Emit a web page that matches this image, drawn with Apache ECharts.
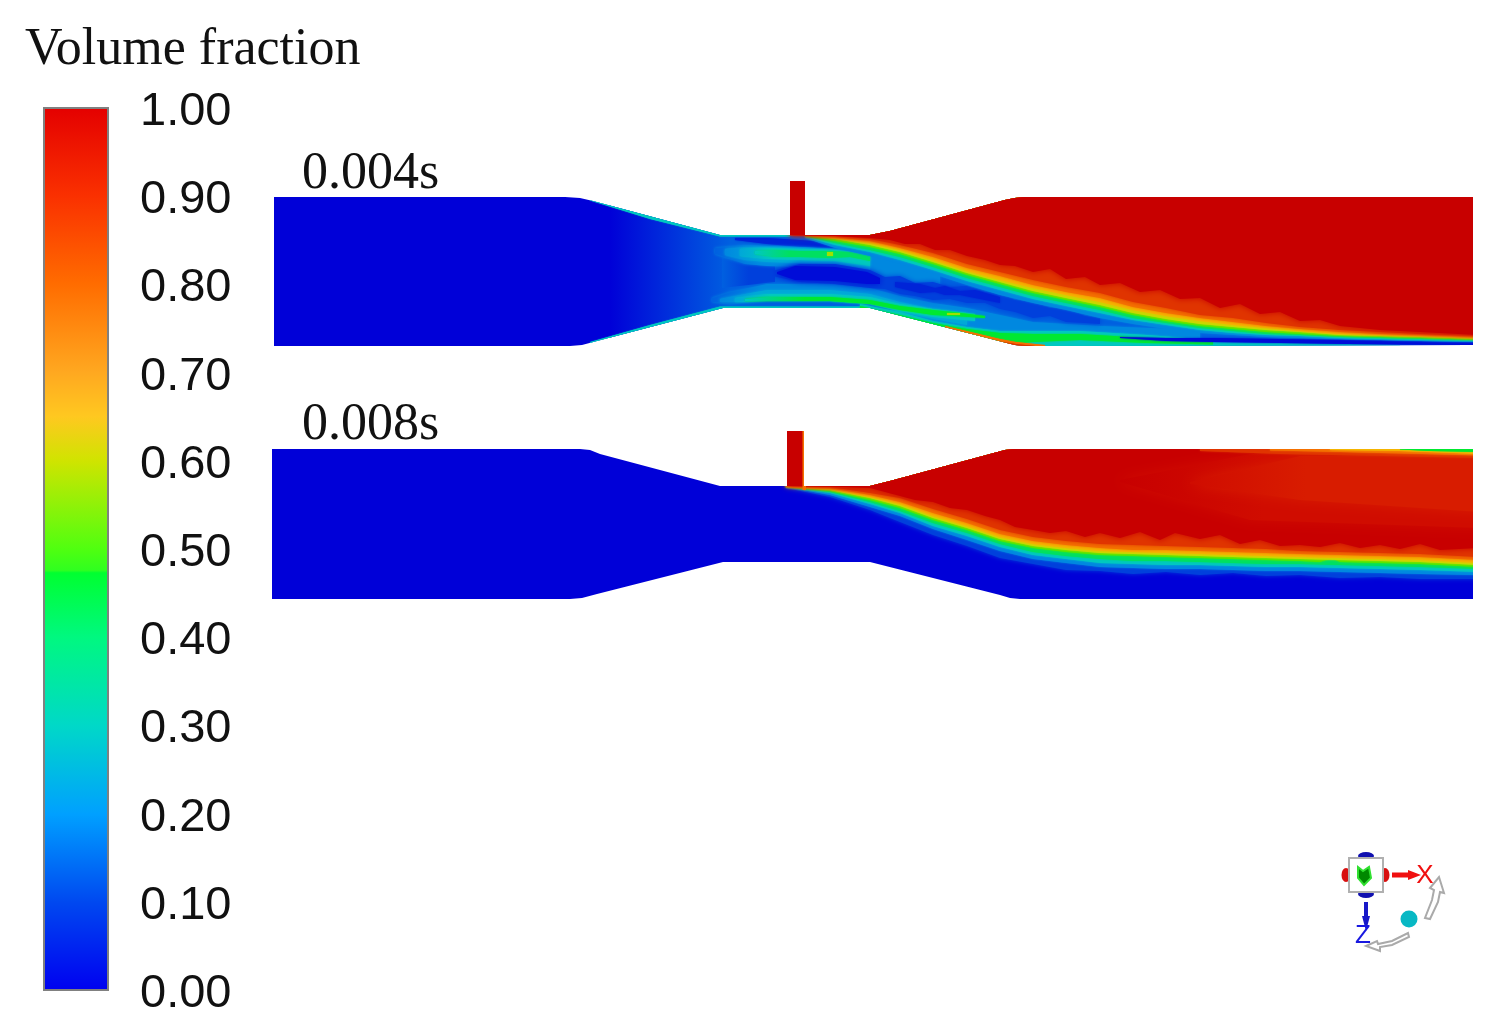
<!DOCTYPE html>
<html>
<head>
<meta charset="utf-8">
<title>Volume fraction</title>
<script src="https://cdn.jsdelivr.net/npm/echarts@6/dist/echarts.min.js"></script>
<style>
  html, body { margin: 0; background: #fff; }
  #chart { width: 1505px; height: 1033px; filter: blur(0.7px); }
</style>
</head>
<body>
<div id="chart"></div>
<script>
// Colour bar
const barTicks = [0, 0.1, 0.2, 0.3, 0.4, 0.5, 0.6, 0.7, 0.8, 0.9, 1];
const barStops = [0, 0.1, 0.2, 0.3, 0.4, 0.473, 0.476, 0.5, 0.6, 0.65, 0.7, 0.8, 0.9, 1];
const barColors = ['#0000f0', '#0048f0', '#00a0ff', '#00d8c8', '#00f880', '#00ff30', '#30ff20', '#50ff10', '#d0e400', '#ffc820', '#ffa820', '#ff6c00', '#fa3000', '#e40000'];

// Colours seen in the contours, darker than the bar
const fieldLevels = [0, 0.03, 0.06, 0.1, 0.15, 0.2, 0.25, 0.3, 0.4, 0.45, 0.5, 0.55, 0.6, 0.7, 0.8, 0.9, 0.93, 0.96, 1];
const fieldColors = ['#0000d8', '#000cd8', '#0024d8', '#0040dc', '#0060e0', '#0088e0', '#00a8d8', '#00c8c0', '#00e060', '#00e830', '#50e800', '#a0e000', '#c8d800', '#f4b400', '#f47000', '#e03400', '#d81c00', '#d00c00', '#c80000'];

// Channel outlines [x, y], tower included
const outline1 = [[274,197],[565,197],[580,198],[593,201],[720,235],[790,235],[790,181],[805,181],[805,235],[870,235],[890,231],[1005,200],[1015,198],[1025,197],[1473,197],[1473,345],[1025,346],[1015,345],[1003,342],[870,308],[723,308],[597,341],[582,345],[570,346],[274,346]];
const outline2 = [[272,449],[580,449],[590,450],[600,454],[720,486],[787,486],[787,431],[804,431],[804,486],[870,486],[890,481],[1005,450],[1015,449],[1473,449],[1473,599],[1020,599],[1010,598],[1000,595],[870,562],[723,562],[597,594],[582,598],[570,599],[272,599]];

// Frame 1 bands as rows [x, upper y, lower y], painted in order
const f1Base = [[270,150,360],[1480,150,360]];
const f1Wake = [[610,190,360],[1480,190,360]];
const f1WakeCore = [[722,258,288],[775,264,282]];
const f1WallUp = [[590,190,200.5],[650,190,219],[720,190,236.5],[790,190,236.5]];
const f1WallDown = [[590,342,360],[650,325,360],[720,306.5,360],[870,306.5,360]];
const f1NeckDark = [[735,238,240],[767,238,244],[800,240,247],[835,243,248],[865,246,250]];
const f1UpperLight20 = [[715,248,254],[745,245,264],[767,246,266],[800,247,267],[835,249,268],[870,251,276],[900,258,280],[940,270,292]];
const f1UpperLight25 = [[725,249,255],[745,247,260],[767,247,262],[800,248,263],[835,250,264],[870,253,270]];
const f1UpperLight30 = [[740,249,256],[767,248,259],[800,249,260],[835,250,261],[870,254,266]];
const f1UpperGreen = [[755,251,254],[775,250,257],[800,251,257],[830,251,258],[850,252,257],[870,256,261]];
const f1GreenSpot = [[827,252,256],[833,252,256]];
const f1LowerLight20 = [[712,298,302],[730,292,304],[767,284,300],[830,284,300],[870,288,303],[900,296,312],[933,303,322],[967,308,332],[1000,315,336],[1033,322,340],[1100,326,342],[1200,330,344]];
const f1LowerLight25 = [[720,299,302],[745,294,302],[767,290,300],[830,290,300],[870,294,303],[900,302,312],[933,309,319],[967,313,325]];
const f1LowerLight30 = [[735,298,302],[767,294,301],[830,294,301],[870,297,304],[900,304,311],[933,309,317],[975,314,321]];
const f1LowerGreen = [[745,299,301],[767,297,301],[830,297,301],[870,300,304],[900,306,310],[933,310,315],[953,312,316],[985,316,318]];
const f1GreenBright = [[947,313,315],[960,313,315]];
const f1WallBand = [[860,304,320],[900,312,330],[933,321,340],[967,327,350],[1000,331,350],[1033,331,350],[1080,331,350],[1147,335,350],[1213,340,350],[1300,343,350],[1400,345,350]];
const f1WallGreen = [[860,306,320],[900,315,330],[933,323,340],[967,329,350],[1000,333,345],[1033,334,342],[1080,334,340],[1147,338,343],[1213,342,344.5]];
const f1WallOrange = [[945,326,340],[975,333,345],[1000,339,350],[1016,342,350],[1045,345,350]];
const f1WallRed = [[990,340,350],[1016,344,350],[1035,346,350]];
const f1Core10 = [[768,272,275],[800,264,282],[835,264,284],[870,270,288],[885,277,289],[900,276,294],[915,283,296],[933,282,300],[950,287,299],[967,286,303],[985,292,303],[1000,293,309],[1015,300,312],[1033,302,318],[1050,308,316],[1066,308,322],[1085,316,323],[1100,318,324]];
const f1Core03 = [[777,272,274],[795,266,280],[835,267,281],[867,272,284],[880,278,284]];
const f1Core06 = [[895,282,287],[920,284,293],[935,288,292],[945,286,295],[960,291,295],[975,290,298],[1000,297,303]];
const f1WallCore = [[1120,337,338],[1166,338,341],[1213,338,342],[1280,339,343],[1347,340,344],[1473,342,345]];
const f1Level20 = [[805,150,238],[835,150,248],[870,150,256],[900,150,264],[933,150,274],[967,150,285],[1000,150,295],[1033,150,303],[1066,150,310],[1100,150,318],[1133,150,324],[1166,150,329],[1200,150,333],[1233,150,335],[1266,150,337],[1300,150,338],[1340,150,339],[1380,150,340],[1420,150,341],[1480,150,342]];
const f1Level30 = [[805,150,237],[835,150,245],[870,150,252],[900,150,260],[933,150,270],[967,150,281],[1000,150,290],[1033,150,299],[1066,150,306],[1100,150,313],[1133,150,320],[1166,150,325],[1200,150,330],[1233,150,333],[1266,150,335],[1300,150,336],[1340,150,338],[1380,150,339],[1420,150,340],[1480,150,341]];
const f1Level40 = [[805,150,236],[835,150,243],[870,150,250],[900,150,257],[933,150,267],[967,150,278],[1000,150,287],[1033,150,296],[1066,150,303],[1100,150,310],[1133,150,318],[1166,150,323],[1200,150,328],[1233,150,331],[1266,150,334],[1300,150,335],[1340,150,337],[1380,150,338],[1420,150,339],[1480,150,340]];
const f1Level50 = [[805,150,236],[835,150,241],[870,150,247],[900,150,254],[933,150,264],[967,150,275],[1000,150,284],[1033,150,293],[1066,150,300],[1100,150,307],[1133,150,315],[1166,150,321],[1200,150,326],[1233,150,329],[1266,150,332],[1300,150,334],[1340,150,336],[1380,150,337],[1420,150,338],[1480,150,340]];
const f1Level60 = [[805,150,235],[835,150,239],[870,150,245],[900,150,252],[933,150,262],[967,150,273],[1000,150,282],[1033,150,291],[1066,150,298],[1100,150,305],[1133,150,313],[1166,150,319],[1200,150,324],[1233,150,327],[1266,150,330],[1300,150,332],[1340,150,335],[1380,150,336],[1420,150,337],[1480,150,339]];
const f1Level70 = [[805,150,235],[835,150,238],[870,150,243],[900,150,250],[933,150,260],[967,150,271],[1000,150,280],[1033,150,288],[1066,150,295],[1100,150,302],[1133,150,310],[1166,150,316],[1200,150,321],[1233,150,325],[1266,150,328],[1300,150,331],[1340,150,334],[1380,150,335],[1420,150,336],[1480,150,338]];
const f1Level80 = [[805,150,235],[835,150,237],[870,150,241],[900,150,248],[933,150,257],[967,150,268],[1000,150,276],[1033,150,285],[1066,150,292],[1100,150,298],[1133,150,307],[1166,150,313],[1200,150,318],[1233,150,322],[1266,150,326],[1300,150,329],[1340,150,332],[1380,150,334],[1420,150,335],[1480,150,337]];
const f1Level90 = [[790,150,235.5],[835,150,236],[870,150,239],[900,150,245],[933,150,253],[967,150,264],[1000,150,272],[1033,150,280],[1066,150,287],[1100,150,293],[1133,150,302],[1166,150,308],[1200,150,315],[1233,150,318],[1266,150,323],[1300,150,327],[1340,150,330],[1380,150,332],[1420,150,334],[1480,150,336]];
const f1Level100 = [[790,150,235],[835,150,236],[870,150,238],[890,150,240],[905,150,244],[920,150,244],[935,150,250],[950,150,250],[967,150,256],[985,150,260],[1000,150,265],[1015,150,266],[1033,150,272],[1050,150,269],[1066,150,279],[1085,150,277],[1100,150,285],[1120,150,283],[1140,150,292],[1160,150,290],[1180,150,299],[1200,150,298],[1220,150,308],[1240,150,304],[1260,150,314],[1280,150,312],[1300,150,321],[1320,150,320],[1340,150,326],[1380,150,330],[1420,150,332],[1480,150,335]];

// band: [level, rows, blur, fade from level, fade end]
const frame1Bands = [
  [0, f1Base, 0], [0.15, f1Wake, 0, 0, 0.138], [0.1, f1WakeCore, 0, 0.15, 0.5],
  [0.3, f1WallUp, 1], [0.3, f1WallDown, 1], [0.06, f1NeckDark, 2],
  [0.2, f1UpperLight20, 3, 0.15, 0.2], [0.25, f1UpperLight25, 3, 0.2, 0.25], [0.3, f1UpperLight30, 2, 0.25, 0.25],
  [0.4, f1UpperGreen, 2, 0.3, 0.3], [0.55, f1GreenSpot, 1],
  [0.2, f1LowerLight20, 3, 0.15, 0.1], [0.25, f1LowerLight25, 3, 0.2, 0.15], [0.3, f1LowerLight30, 2, 0.25, 0.15],
  [0.45, f1LowerGreen, 2, 0.3, 0.25], [0.55, f1GreenBright, 1],
  [0.3, f1WallBand, 2], [0.45, f1WallGreen, 2], [0.8, f1WallOrange, 1], [0.9, f1WallRed, 1],
  [0.1, f1Core10, 5], [0.03, f1Core03, 6], [0.06, f1Core06, 3], [0.03, f1WallCore, 2],
  [0.2, f1Level20, 2], [0.3, f1Level30, 2], [0.4, f1Level40, 2], [0.5, f1Level50, 2], [0.6, f1Level60, 2],
  [0.7, f1Level70, 2], [0.8, f1Level80, 3], [0.9, f1Level90, 4], [1, f1Level100, 6]
];

// Frame 2 bands
const f2Base = [[265,400,610],[1480,400,610]];
const f2Level10 = [[786,400,488],[830,400,497],[870,400,510],[900,400,522],[933,400,535],[967,400,546],[1000,400,558],[1033,400,564],[1066,400,570],[1100,400,571],[1133,400,574],[1166,400,572],[1200,400,575],[1233,400,573],[1266,400,576],[1300,400,575],[1340,400,578],[1380,400,577],[1420,400,579],[1480,400,579]];
const f2Level20 = [[786,400,487],[830,400,495],[870,400,507],[900,400,516],[933,400,529],[967,400,540],[1000,400,551],[1033,400,559],[1066,400,563],[1100,400,567],[1133,400,568],[1166,400,569],[1200,400,569],[1233,400,570],[1266,400,571],[1300,400,571],[1340,400,572],[1380,400,573],[1420,400,574],[1480,400,575]];
const f2Level30 = [[786,400,487],[830,400,493],[870,400,504],[900,400,513],[933,400,526],[967,400,536],[1000,400,547],[1033,400,555],[1066,400,559],[1100,400,563],[1133,400,564],[1166,400,565],[1200,400,565],[1233,400,566],[1266,400,567],[1300,400,567],[1340,400,568],[1380,400,569],[1420,400,570],[1480,400,572]];
const f2Level40 = [[786,400,487],[830,400,492],[870,400,502],[900,400,511],[933,400,523],[967,400,533],[1000,400,544],[1033,400,552],[1066,400,556],[1100,400,559],[1133,400,561],[1166,400,561],[1200,400,562],[1233,400,563],[1266,400,564],[1300,400,564],[1340,400,565],[1380,400,566],[1420,400,567],[1480,400,569]];
const f2Level50 = [[786,400,487],[830,400,491],[870,400,500],[900,400,508],[933,400,520],[967,400,530],[1000,400,541],[1033,400,548],[1066,400,552],[1100,400,555],[1133,400,556],[1166,400,557],[1200,400,558],[1233,400,559],[1266,400,560],[1300,400,561],[1320,400,562],[1332,400,558],[1340,400,562],[1380,400,563],[1420,400,564],[1480,400,567]];
const f2Level60 = [[786,400,487],[830,400,490],[870,400,498],[900,400,506],[933,400,518],[967,400,528],[1000,400,539],[1033,400,546],[1066,400,550],[1100,400,553],[1133,400,554],[1166,400,555],[1200,400,556],[1233,400,557],[1266,400,558],[1300,400,559],[1340,400,560],[1380,400,561],[1420,400,562],[1480,400,565]];
const f2Level70 = [[786,400,487],[830,400,489],[870,400,497],[900,400,504],[933,400,516],[967,400,526],[1000,400,537],[1033,400,544],[1066,400,548],[1100,400,551],[1133,400,552],[1166,400,553],[1200,400,554],[1233,400,555],[1266,400,556],[1300,400,557],[1340,400,558],[1380,400,559],[1420,400,560],[1480,400,563]];
const f2Level80 = [[786,400,486],[830,400,488],[870,400,495],[900,400,502],[933,400,513],[967,400,523],[1000,400,534],[1033,400,541],[1066,400,545],[1100,400,548],[1133,400,550],[1166,400,550],[1200,400,551],[1233,400,552],[1266,400,553],[1300,400,554],[1340,400,555],[1380,400,556],[1420,400,557],[1480,400,560]];
const f2Level90 = [[786,400,486],[830,400,487],[870,400,493],[900,400,498],[933,400,509],[967,400,519],[1000,400,530],[1033,400,537],[1066,400,541],[1100,400,544],[1133,400,545],[1166,400,546],[1200,400,547],[1233,400,548],[1266,400,549],[1300,400,551],[1340,400,552],[1380,400,553],[1420,400,554],[1480,400,557]];
const f2Level100 = [[786,400,486],[830,400,486.5],[870,400,488],[900,400,496],[915,400,500],[933,400,502],[950,400,508],[967,400,510],[985,400,516],[1000,400,520],[1015,400,527],[1033,400,530],[1050,400,533],[1066,400,531],[1085,400,537],[1100,400,533],[1120,400,538],[1140,400,532],[1160,400,540],[1175,400,533],[1200,400,539],[1220,400,535],[1240,400,544],[1260,400,540],[1280,400,546],[1300,400,545],[1320,400,547],[1340,400,543],[1360,400,548],[1380,400,545],[1400,400,549],[1420,400,544],[1440,400,550],[1480,400,548]];
const f2Upper96 = [[1120,480,482],[1250,454,520],[1480,454,528]];
const f2Upper93 = [[1190,482,484],[1300,456,500],[1480,456,512]];
const f2TopOrange90 = [[1200,440,451],[1280,440,454],[1480,440,458]];
const f2TopOrange80 = [[1270,440,450.5],[1340,440,452],[1480,440,455.5]];
const f2TopYellow = [[1330,440,450],[1400,440,451],[1480,440,454]];
const f2TopGreen = [[1400,440,449.5],[1430,440,451],[1480,440,452]];
const f2TowerEdge = [[802.5,425,490],[806,425,490]];

const frame2Bands = [
  [0, f2Base, 0], [0.1, f2Level10, 4], [0.2, f2Level20, 2], [0.3, f2Level30, 2], [0.4, f2Level40, 2],
  [0.5, f2Level50, 2], [0.6, f2Level60, 2], [0.7, f2Level70, 2], [0.8, f2Level80, 3], [0.9, f2Level90, 4],
  [1, f2Level100, 6], [0.96, f2Upper96, 14, 1, 0.4], [0.93, f2Upper93, 14, 0.96, 0.4],
  [0.9, f2TopOrange90, 2], [0.8, f2TopOrange80, 2],
  [0.7, f2TopYellow, 2], [0.45, f2TopGreen, 1], [0.8, f2TowerEdge, 1]
];

// Orientation marker
const gizmoDots = [
  [1346,875,9,14,'#d81010'], [1385,875,9,14,'#d81010'],
  [1366,856,16,8,'#1010b0'], [1366,894,16,8,'#1010b0'],
  [1409,919,17,17,'#08b8c4']
];
const gizmoBox = [[1349,858],[1383,858],[1383,892],[1349,892]];
const gizmoGreen = [[1358,867],[1363,871],[1369,867],[1371,878],[1364,885],[1358,878]];
const gizmoArrowX = [[1392,872.5],[1408,872.5],[1408,870],[1421,875],[1408,880],[1408,877.5],[1392,877.5]];
const gizmoArrowZ = [[1364,902],[1368,902],[1368,916],[1370,916],[1366,931],[1362,916],[1364,916]];
const gizmoCurveRight = [[1425,918],[1430,919],[1438,902],[1440,892],[1444,893],[1439,877],[1430,888],[1434,890],[1432,900]];
const gizmoCurveBottom = [[1408,933],[1409,937],[1392,945],[1380,947],[1380,951],[1366,946],[1377,941],[1378,944],[1392,941]];
const gizmoLetters = [['X', 1425, 876, '#f01010'], ['Z', 1363, 936, '#1818e0']];

function colorOf(v) {
  return fieldColors[fieldLevels.indexOf(v)];
}

function bandItem(api, band, outline) {
  const rows = band[1];
  const pts = rows.map(r => api.coord([r[0], r[1]]))
    .concat(rows.slice().reverse().map(r => api.coord([r[0], r[2]])));
  const color = colorOf(band[0]);
  // a band may fade in from another level along x
  const fill = band[3] === undefined ? color : new echarts.graphic.LinearGradient(0, 0, 1, 0, [
    { offset: 0, color: colorOf(band[3]) },
    { offset: band[4], color: color },
    { offset: 1, color: color }
  ]);
  return {
    type: 'polygon',
    shape: { points: pts },
    style: { fill: fill, shadowBlur: band[2], shadowColor: color },
    clipPath: { type: 'polygon', shape: { points: outline.map(p => api.coord(p)) } }
  };
}

function fieldSeries(bands, outline) {
  return {
    type: 'custom',
    coordinateSystem: 'cartesian2d',
    xAxisIndex: 0,
    yAxisIndex: 0,
    silent: true,
    clip: false,
    data: bands.map((b, i) => [b[1][0][0], b[1][0][1], i]),
    renderItem: (params, api) => bandItem(api, bands[params.dataIndex], outline)
  };
}

function polyEl(api, pts, fill, stroke, width) {
  return {
    type: 'polygon',
    shape: { points: pts.map(p => api.coord(p)) },
    style: { fill: fill, stroke: stroke, lineWidth: width || 0 }
  };
}

const chart = echarts.init(document.getElementById('chart'));
chart.setOption({
  backgroundColor: '#fff',
  animation: false,
  title: [
    { text: 'Volume fraction', left: 20, top: 19, textStyle: { fontFamily: 'Liberation Serif', fontSize: 52, fontWeight: 'normal', color: '#111' } },
    { text: '0.004s', left: 297, top: 143, textStyle: { fontFamily: 'Liberation Serif', fontSize: 52, fontWeight: 'normal', color: '#111' } },
    { text: '0.008s', left: 297, top: 394, textStyle: { fontFamily: 'Liberation Serif', fontSize: 52, fontWeight: 'normal', color: '#111' } }
  ],
  grid: [
    { left: 0, top: 0, width: 1505, height: 1033 },
    { left: 44, top: 108, width: 64, height: 882 }
  ],
  xAxis: [
    { gridIndex: 0, type: 'value', min: 0, max: 1505, show: false },
    { gridIndex: 1, type: 'value', min: 0, max: 1, show: false }
  ],
  yAxis: [
    { gridIndex: 0, type: 'value', min: 0, max: 1033, inverse: true, show: false },
    {
      gridIndex: 1, type: 'value', min: 0, max: 1, interval: 0.1, position: 'right',
      splitLine: { show: false },
      axisLine: { show: false },
      axisTick: { show: true, length: 7, lineStyle: { color: '#777', width: 2 } },
      axisLabel: {
        margin: 32,
        formatter: v => `{n|${v.toFixed(2)}}`,
        rich: {
          n: { fontFamily: 'Liberation Sans', fontSize: 47, color: '#111', padding: [8, 0, 0, 0] }
        }
      }
    }
  ],
  series: [
    {
      // colour bar
      type: 'custom',
      coordinateSystem: 'cartesian2d',
      xAxisIndex: 1,
      yAxisIndex: 1,
      silent: true,
      clip: false,
      data: [[0, 1]],
      renderItem: (params, api) => {
        const a = api.coord([0, 1]);
        const b = api.coord([1, 0]);
        return {
          type: 'rect',
          shape: { x: a[0], y: a[1], width: b[0] - a[0], height: b[1] - a[1] },
          style: {
            fill: new echarts.graphic.LinearGradient(0, 1, 0, 0,
              barStops.map((s, i) => ({ offset: s, color: barColors[i] }))),
            stroke: '#808080',
            lineWidth: 2
          }
        };
      }
    },
    fieldSeries(frame1Bands, outline1),
    fieldSeries(frame2Bands, outline2),
    {
      // marker shapes
      type: 'custom',
      coordinateSystem: 'cartesian2d',
      xAxisIndex: 0,
      yAxisIndex: 0,
      silent: true,
      clip: false,
      z: 3,
      data: [[1349, 858]],
      renderItem: (params, api) => ({
        type: 'group',
        children: [
          polyEl(api, gizmoCurveRight, '#fff', '#aaa', 2),
          polyEl(api, gizmoCurveBottom, '#fff', '#aaa', 2),
          polyEl(api, gizmoArrowX, '#f01010'),
          polyEl(api, gizmoArrowZ, '#1818c8')
        ].concat(gizmoLetters.map(l => {
          const p = api.coord([l[1], l[2]]);
          return {
            type: 'text',
            x: p[0],
            y: p[1],
            style: { text: l[0], fill: l[3], font: '26px "Liberation Sans"', align: 'center', verticalAlign: 'middle' }
          };
        }))
      })
    },
    {
      type: 'scatter',
      xAxisIndex: 0,
      yAxisIndex: 0,
      silent: true,
      z: 3,
      data: gizmoDots.map(d => ({
        value: [d[0], d[1]],
        symbolSize: [d[2], d[3]],
        itemStyle: { color: d[4], opacity: 1 }
      }))
    },
    {
      // box and green marker sit over the dots
      type: 'custom',
      coordinateSystem: 'cartesian2d',
      xAxisIndex: 0,
      yAxisIndex: 0,
      silent: true,
      clip: false,
      z: 4,
      data: [[1349, 858]],
      renderItem: (params, api) => ({
        type: 'group',
        children: [
          polyEl(api, gizmoBox, '#fff', '#b0b0b0', 2),
          polyEl(api, gizmoGreen, '#008800', '#30e030', 2)
        ]
      })
    }
  ]
});
</script>
</body>
</html>
